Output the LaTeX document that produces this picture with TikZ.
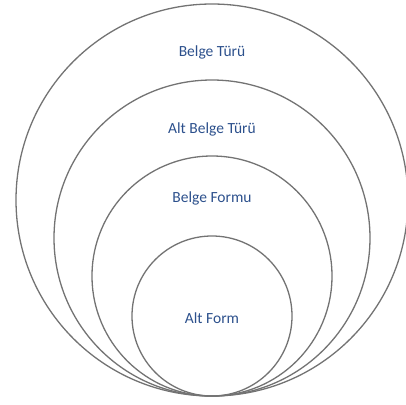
\documentclass[tikz,border=0pt]{standalone}
\usepackage{fontspec}
\setmainfont{Carlito}
\usetikzlibrary{positioning}
\definecolor{lblblue}{RGB}{44,80,140}

\begin{document}
\begin{tikzpicture}[x=1bp, y=-1bp, lbl/.style={text=lblblue, font=\fontsize{15.5bp}{18bp}\selectfont}]
\tikzstyle{ring}=[circle, draw=gray!90!black, line width=1.3bp, inner sep=0pt]
\useasboundingbox (0,0) rectangle (406,405);
% nested rings, all touching at the bottom
\foreach \n/\r in {outer/196, second/158, third/120, inner/80}{
  \node[ring, minimum size=2*\r bp] (\n) at (212,396-\r) {};
}
\node[lbl] (tur) at (212,52) {Belge Türü};
\node[lbl] (alttur) at (212,129) {Alt Belge Türü};
\node[lbl] (formu) at (212,198) {Belge Formu};
\node[lbl] (altform) at (212,318) {Alt Form};
\end{tikzpicture}
\end{document}
